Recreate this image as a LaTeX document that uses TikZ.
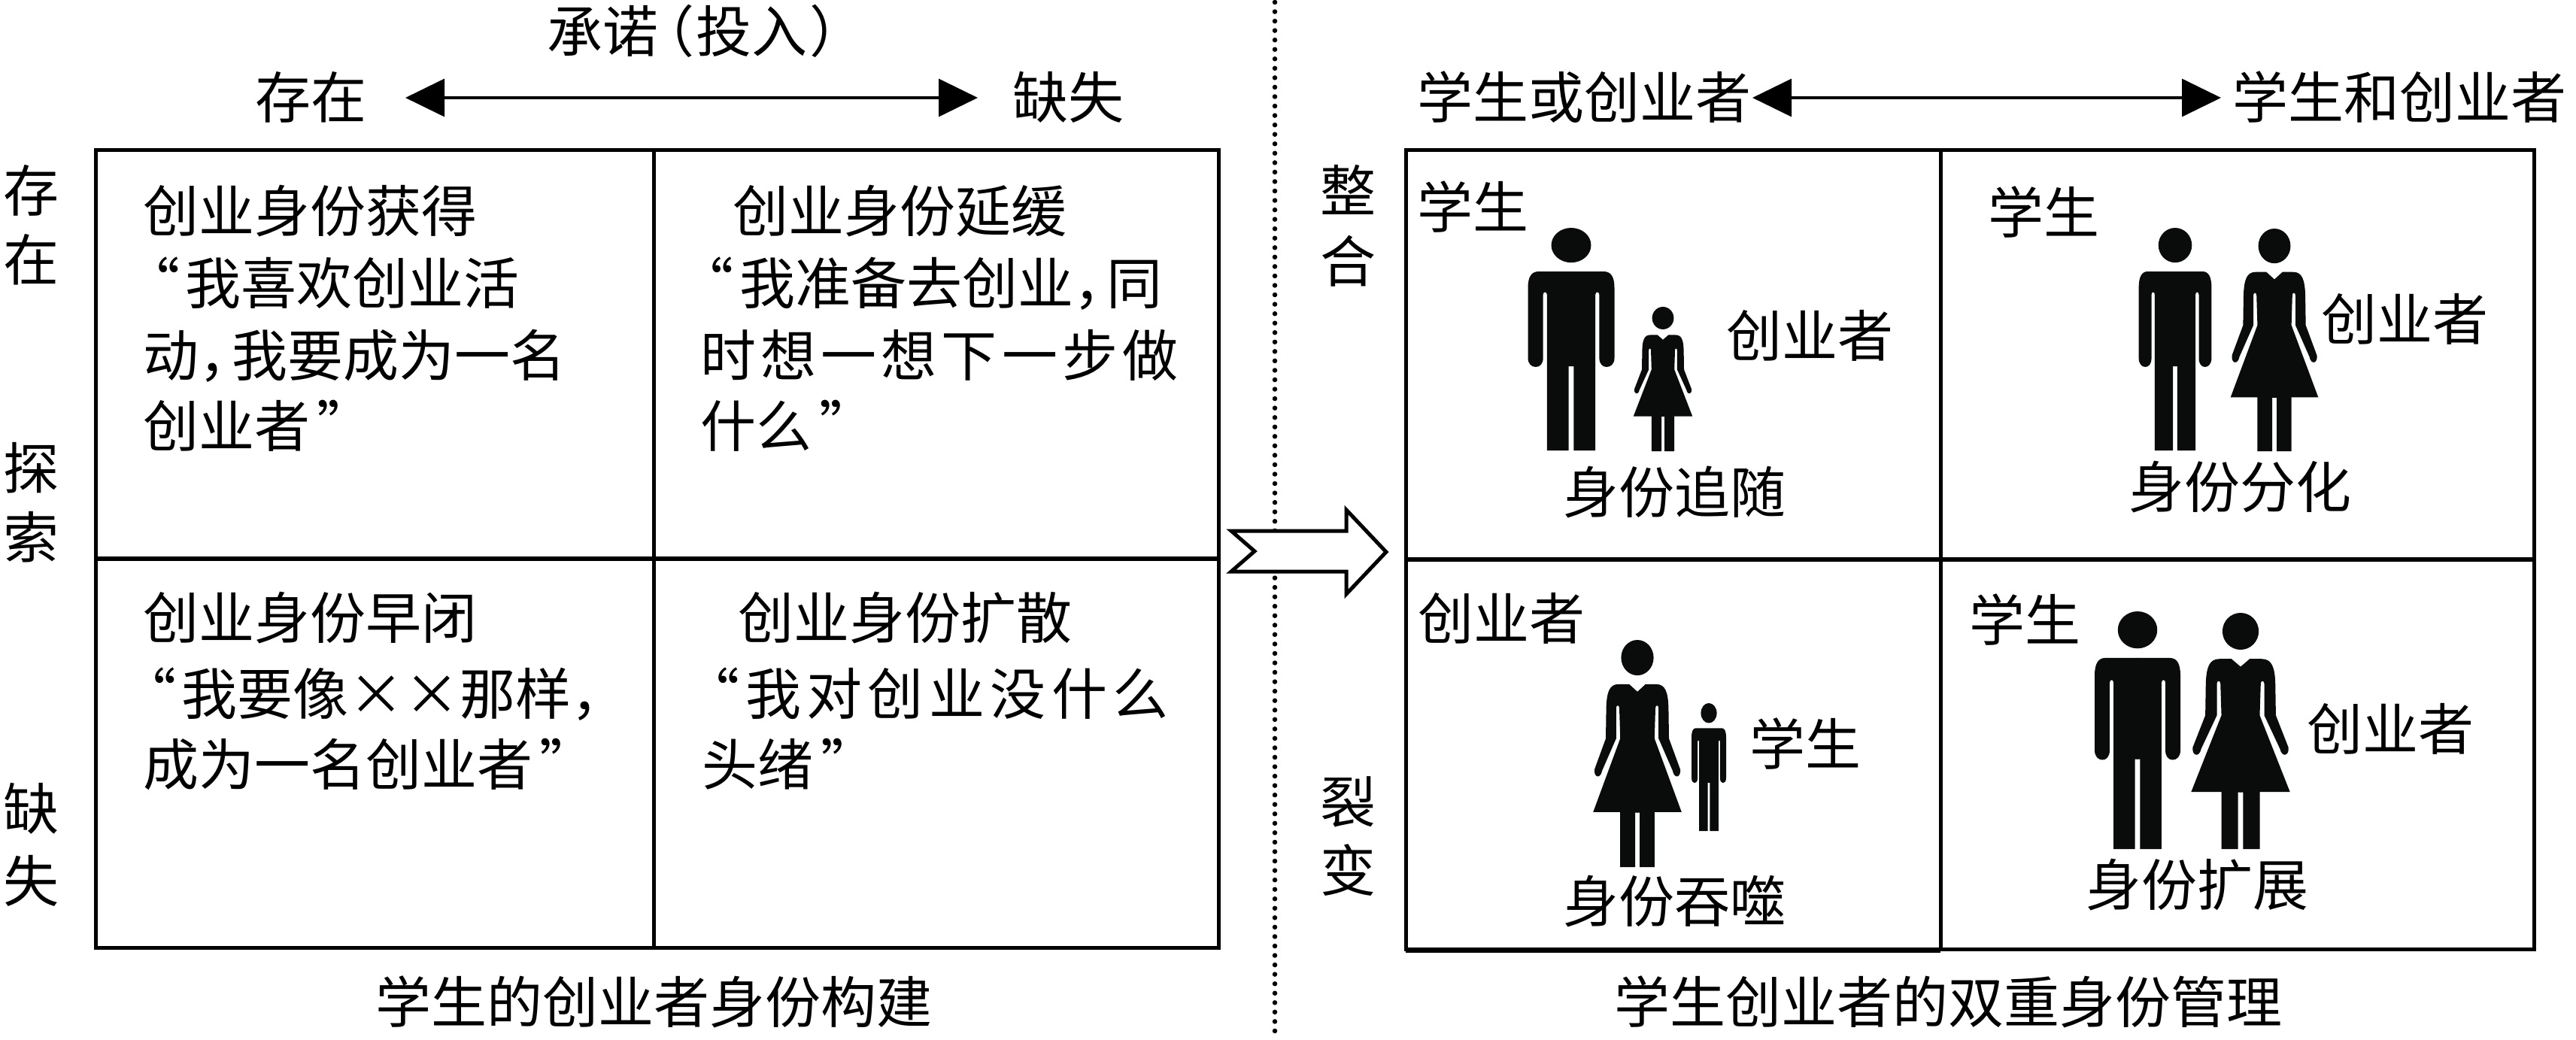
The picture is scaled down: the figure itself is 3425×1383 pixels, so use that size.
\documentclass[tikz,border=0pt]{standalone}
\usepackage{fontspec}
\setmainfont{Noto Sans CJK SC}
\usetikzlibrary{arrows.meta}
\newcommand{\cma}{，\kern-30pt\relax}
\newcommand{\opq}{“\kern8pt\relax}
\newcommand{\clq}{\kern10pt”}
\newcommand{\sprd}[2]{{\addfontfeature{LetterSpace=#1}#2}}
% man: centre x, top y, half width, height
\newcommand{\manfig}[4]{%
  \begin{scope}[shift={(#1pt,-#2pt)},x=#3pt,y=-#4pt]
    \fill[figblack] (0,.078) ellipse [x radius=.46,y radius=.078];
    \foreach \s in {1,-1}{
      \fill[figblack,xscale=\s] (-.01,.196) -- (.75,.196) .. controls (.92,.196) and (1,.22) .. (1,.27)
        -- (1,.585) .. controls (1,.61) and (.92,.625) .. (.82,.625) .. controls (.72,.625) and (.65,.61) .. (.65,.585)
        -- (.65,.30) .. controls (.65,.285) and (.56,.285) .. (.56,.30) -- (.56,1) -- (.06,1) -- (.06,.622) -- (-.01,.622) -- cycle;
    }
  \end{scope}}
\newcommand{\womanfig}[4]{%
  \begin{scope}[shift={(#1pt,-#2pt)},x=#3pt,y=-#4pt]
    \fill[figblack] (0,.078) ellipse [x radius=.36,y radius=.078];
    \foreach \s in {1,-1}{
      \fill[figblack,xscale=\s] (-.01,.228) -- (0,.228) -- (.18,.195) -- (.42,.195) .. controls (.62,.195) and (.68,.23) .. (.69,.30)
        -- (.70,.434) -- (.95,.57) .. controls (.97,.605) and (.82,.615) .. (.78,.575)
        -- (.47,.434) -- (.47,.30) .. controls (.47,.285) and (.40,.285) .. (.40,.30) -- (.38,.434)
        -- (.98,.758) -- (.38,.758) -- (.38,1) -- (.05,1) -- (.05,.76) -- (-.01,.76) -- cycle;
    }
  \end{scope}}
\definecolor{figblack}{HTML}{0A0C0B}
\tikzset{
  gridline/.style={line width=5pt,black,line join=miter},
  midline/.style={line width=6.5pt,black},
  lab/.style={inner sep=0pt,outer sep=0pt,text height=65pt,text depth=9pt,black,font=\fontsize{74}{74}\selectfont},
  labw/.style={lab,anchor=west},
  dbl/.style={line width=3.5pt,black,{Triangle[length=52pt,width=50pt]}-{Triangle[length=52pt,width=50pt]}},
  hollow/.style={line width=5pt,black,fill=white,line join=miter},
  dotline/.style={line width=6.5pt,black,line cap=round,dash pattern=on 0pt off 12.55pt}
}
\begin{document}
\begin{tikzpicture}[x=1pt,y=-1pt]
\useasboundingbox (0,0) rectangle (3425,1383);
\fill[white] (0,0) rectangle (3425,1383);
% dotted divider
\coordinate (dtop) at (1695,3);
\coordinate (dbot) at (1695,1383);
\draw[dotline] (dtop) -- (dbot);
% left grid
\draw[gridline] (127,200) rectangle (1620,1260);
\draw[gridline] (869,200) -- (869,1260);
\draw[midline] (127,743) -- (1620,743);
% right grid
\draw[gridline] (1869,200) rectangle (3369,1262);
\draw[gridline] (1869,1264) -- (2580,1264);
\draw[gridline] (2580,200) -- (2580,1264);
\draw[midline] (1869,744) -- (3369,744);
% hollow arrow
\draw[hollow] (1637,706) -- (1790,706) -- (1790,678) -- (1843,734) -- (1790,790) -- (1790,760) -- (1637,760) -- (1668,733) -- cycle;
% header left
\node[lab,anchor=west] (hdr) at (727,42) {承诺\kern-26pt（\kern3pt 投入\kern3pt）};
\node[lab] (cun) at (413,130) {存在};
\node[lab] (que) at (1420,130) {缺失};
\draw[dbl,shorten <=52pt,shorten >=46pt] (cun.east) -- (que.west);
% header right
\node[lab] (xh) at (2106,130) {学生或创业者};
\node[lab] (xy) at (3190,130) {学生和创业者};
\draw[dbl,shorten <=2pt,shorten >=15pt] (xh.east) -- (xy.west);
% left side labels
\node[lab] (v1) at (42,253) {存};
\node[lab] (v2) at (42,345) {在};
\node[lab] (v3) at (42,622) {探};
\node[lab] (v4) at (42,714) {索};
\node[lab] (v5) at (42,1075) {缺};
\node[lab] (v6) at (42,1171) {失};
% right side labels
\node[lab] (r1) at (1792,253) {整};
\node[lab] (r2) at (1792,347) {合};
\node[lab] (r3) at (1792,1066) {裂};
\node[lab] (r4) at (1792,1157) {变};
% left cells
\node[labw] (a1) at (190,280) {创业身份获得};
\node[labw] (a2) at (165,376) {\opq 我喜欢创业活};
\node[labw] (a3) at (190,472) {动\cma 我要成为一名};
\node[labw] (a4) at (190,566) {创业者\clq};
\node[labw] (b1) at (974,280) {创业身份延缓};
\node[labw] (b2) at (901,376) {\opq 我准备去创业\cma 同};
\node[labw] (b3) at (931,472) {\sprd{8.4}{时想一想下一步做}};
\node[labw] (b4) at (931,566) {什么\clq};
\node[labw] (c1) at (190,821) {创业身份早闭};
\node[labw] (c2) at (160,922) {\opq 我要像××那样\cma};
\node[labw] (c3) at (190,1016) {成为一名创业者\clq};
\node[labw] (d1) at (981,821) {创业身份扩散};
\node[labw] (d2) at (909,922) {\sprd{10}{\opq 我对创业没什么}};
\node[labw] (d3) at (933,1016) {头绪\clq};
% captions
\node[lab] (cap1) at (869,1332) {学生的创业者身份构建};
\node[lab] (cap2) at (2590,1332) {学生创业者的双重身份管理};
% right cell labels
\node[lab] (e1) at (1958,275) {学生};
\node[lab] (e2) at (2406,446) {创业者};
\node[lab] (e3) at (2226,654) {身份追随};
\node[lab] (f1) at (2717,282) {学生};
\node[lab] (f2) at (3197,424) {创业者};
\node[lab] (f3) at (2978,647) {身份分化};
\node[lab] (g1) at (1996,822) {创业者};
\node[lab] (g2) at (2400,989) {学生};
\node[lab] (g3) at (2226,1198) {身份吞噬};
\node[lab] (h1) at (2692,824) {学生};
\node[lab] (h2) at (3178,969) {创业者};
\node[lab] (h3) at (2921,1176) {身份扩展};
% figures
\manfig{2089}{303}{57.5}{296}
\womanfig{2211}{408}{40}{192}
\manfig{2892}{303}{48.4}{296}
\womanfig{3024}{304}{59.5}{296}
\womanfig{2177}{851}{60}{302}
\manfig{2272}{935}{23}{170}
\manfig{2842}{813}{57}{316}
\womanfig{2979}{815}{67}{314}
\end{tikzpicture}
\end{document}
